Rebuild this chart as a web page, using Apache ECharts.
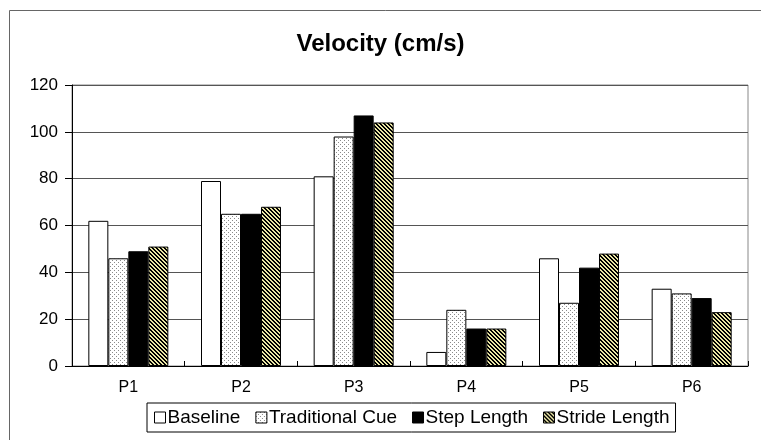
<!DOCTYPE html>
<html><head><meta charset="utf-8">
<script src="https://cdn.jsdelivr.net/npm/echarts@6/dist/echarts.min.js"></script>
<style>html,body{margin:0;padding:0;background:#fff}#c{width:761px;height:440px}</style>
</head><body><div id="c"></div>
<script>
var categories = ['P1','P2','P3','P4','P5','P6'];
var baseline = [62, 79, 81, 6, 46, 33];
var traditionalCue = [46, 65, 98, 24, 27, 31];
var stepLength = [49, 65, 107, 16, 42, 29];
var strideLength = [51, 68, 104, 16, 48, 23];
var seriesNames = ['Baseline','Traditional Cue','Step Length','Stride Length'];
var yTicks = [0,20,40,60,80,100,120];

function dotPattern(){
  var c = document.createElement('canvas'); c.width = 4; c.height = 4;
  var g = c.getContext('2d');
  g.fillStyle = '#fff'; g.fillRect(0,0,4,4);
  g.fillStyle = '#8a8a8a'; g.fillRect(0,0,1,1); g.fillRect(2,2,1,1);
  return {image: c, repeat: 'repeat'};
}
function stripePattern(){
  var c = document.createElement('canvas'); c.width = 4; c.height = 4;
  var g = c.getContext('2d');
  for (var y=0;y<4;y++) for (var x=0;x<4;x++){
    var m = ((x - y) % 4 + 4) % 4;
    g.fillStyle = (m < 2) ? '#000' : '#eae6a6';
    g.fillRect(x,y,1,1);
  }
  return {image: c, repeat: 'repeat'};
}
var fills = ['#ffffff', dotPattern(), '#000000', stripePattern()];
var data = [baseline, traditionalCue, stepLength, strideLength];

var chart = echarts.init(document.getElementById('c'), null, {renderer:'canvas'});
var font = 'Arial, "Liberation Sans", sans-serif';
chart.setOption({
  animation: false,
  backgroundColor: '#fff',
  title: {text: 'Velocity (cm/s)', left: 'center', top: 27,
    textStyle: {fontFamily: font, fontSize: 24, fontWeight: 'bold', color: '#000'}},
  graphic: [{type: 'rect', shape: {x: 9.5, y: 10.5, width: 800, height: 500},
    style: {fill: 'none', stroke: '#666', lineWidth: 1}, silent: true, z: -1}],
  grid: {left: 72, right: 13, top: 85, bottom: 74, show: true, borderColor: '#888', borderWidth: 1, backgroundColor: 'transparent'},
  legend: {top: 403, left: 147, itemWidth: 11, itemHeight: 11, itemGap: 15,
    padding: [5, 6, 5, 7], borderColor: '#000', borderWidth: 1,
    textStyle: {fontFamily: font, fontSize: 19, color: '#000', padding: [0,0,0,-3]},
    data: seriesNames.map(function(n, i){return {name: n, icon: 'rect',
      itemStyle: {color: fills[i], borderColor: '#000', borderWidth: 1}};})},
  xAxis: {type: 'category', data: categories,
    axisLine: {lineStyle: {color: '#000', width: 1}},
    axisTick: {show: true, inside: true, length: 5, alignWithLabel: false, lineStyle: {color: '#000'}},
    axisLabel: {fontFamily: font, fontSize: 16, color: '#000', margin: 14}},
  yAxis: {type: 'value', min: 0, max: 120, interval: 20,
    axisLine: {show: true, lineStyle: {color: '#000'}},
    axisTick: {show: true, length: 7, lineStyle: {color: '#000'}},
    axisLabel: {fontFamily: font, fontSize: 17, color: '#000', margin: 14,
      formatter: function(v){ return yTicks.indexOf(v) >= 0 ? String(v) : ''; }},
    splitLine: {lineStyle: {color: '#555', width: 1}}},
  series: seriesNames.map(function(n, i){
    return {name: n, type: 'bar', data: data[i], barGap: '0%', barCategoryGap: '29%',
      itemStyle: {color: fills[i], borderColor: '#000', borderWidth: 1}};
  })
});
</script></body></html>
